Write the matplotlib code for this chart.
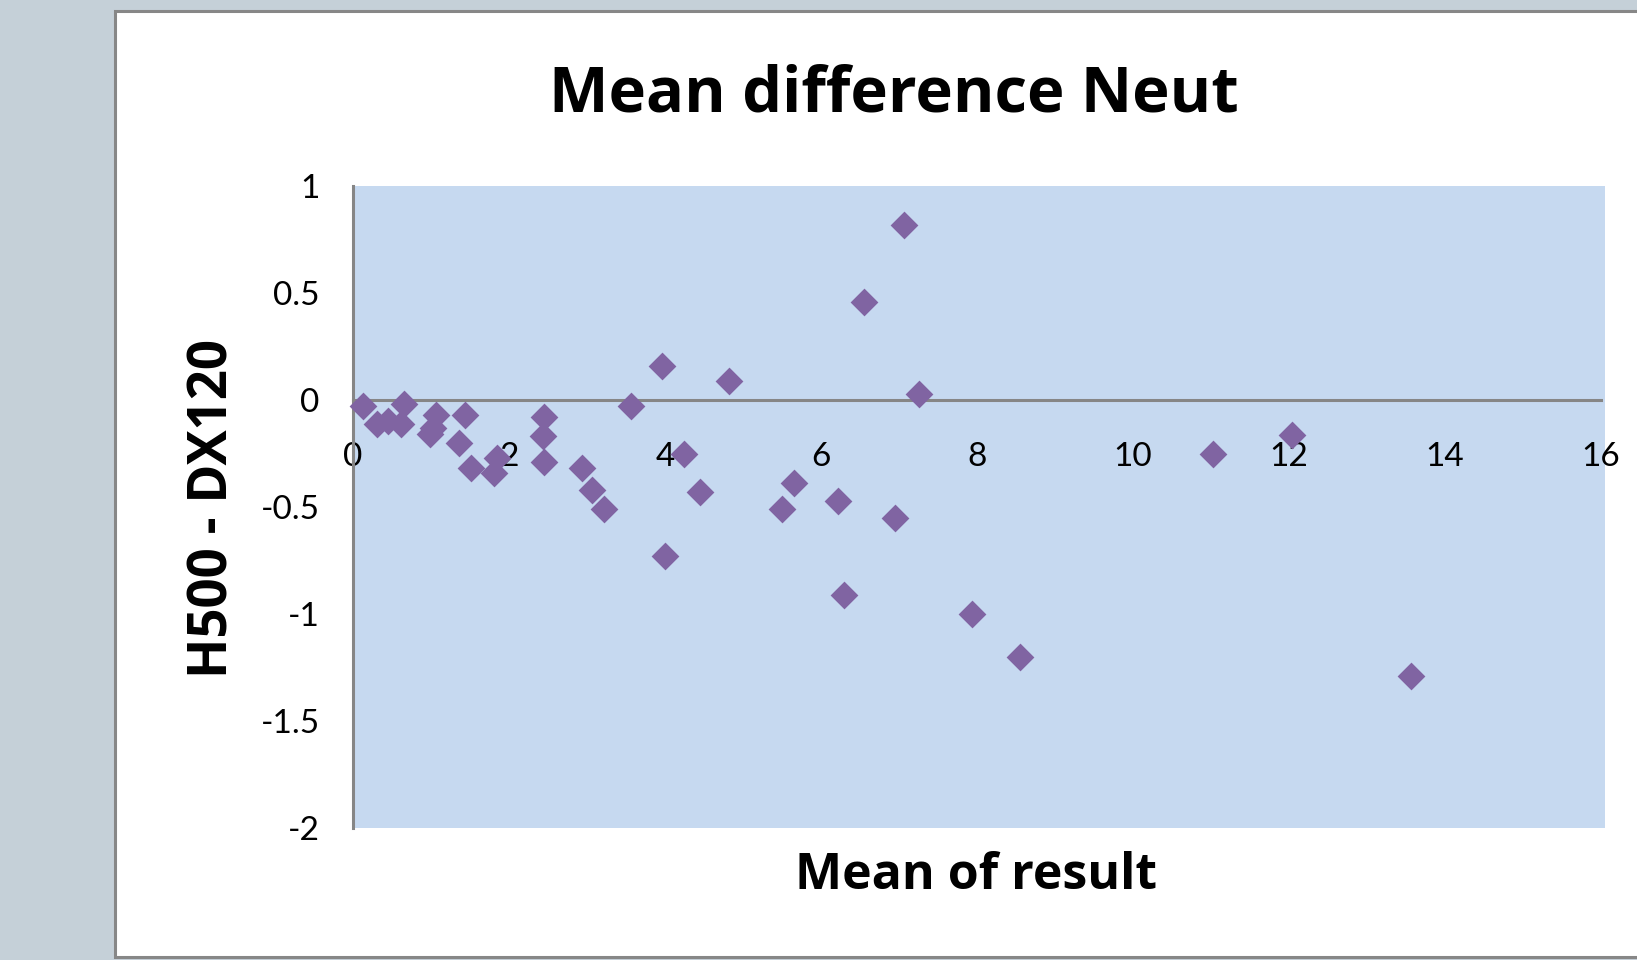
import matplotlib.pyplot as plt
from matplotlib.patches import Rectangle

# values
mean_result = [0.13, 0.31, 0.45, 0.61, 0.66, 0.99, 1.02, 1.06, 1.36, 1.43,
               1.51, 1.81, 1.85, 2.43, 2.45, 2.45, 2.93, 3.06, 3.22, 3.57,
               3.96, 4.00, 4.24, 4.45, 4.82, 5.50, 5.65, 6.22, 6.29, 6.55,
               6.95, 7.06, 7.25, 7.94, 8.55, 11.03, 12.04, 13.57]
difference = [-0.03, -0.11, -0.10, -0.11, -0.02, -0.16, -0.13, -0.07, -0.20, -0.07,
              -0.32, -0.34, -0.27, -0.17, -0.08, -0.29, -0.32, -0.42, -0.51, -0.03,
              0.16, -0.73, -0.25, -0.43, 0.09, -0.51, -0.39, -0.47, -0.91, 0.46,
              -0.55, 0.82, 0.03, -1.00, -1.20, -0.25, -0.165, -1.29]
x_ticks = [0, 2, 4, 6, 8, 10, 12, 14, 16]
y_ticks = [-2, -1.5, -1, -0.5, 0, 0.5, 1]
y_tick_labels = ['-2', '-1.5', '-1', '-0.5', '0', '0.5', '1']

W, H = 1637, 960
fig = plt.figure(figsize=(W / 100, H / 100), dpi=100, facecolor='#C5D0D8')

# white chart area with grey border
fig.patches.append(Rectangle((115 / W, 1 - 957 / H), 1.2, (957 - 11) / H,
                             transform=fig.transFigure, facecolor='white',
                             edgecolor='#878787', linewidth=2.2, zorder=-1))

ax = fig.add_axes([353 / W, 1 - 828 / H, (1601 - 353) / W, (828 - 186) / H])
ax.set_zorder(1)
ax.set_facecolor('none')
# plot area runs a few pixels past the end of the x axis
ax.add_patch(Rectangle((0, 0), 1.0035, 1, transform=ax.transAxes,
                       facecolor='#C6D9F0', edgecolor='none', zorder=0,
                       clip_on=False))
ax.scatter(mean_result, difference, marker='D', s=200, color='#8064A2',
           linewidths=0, zorder=3, clip_on=False)

ax.set_xlim(0, 16)
ax.set_ylim(-2, 1)
ax.set_xticks(x_ticks)
ax.set_xticklabels([str(t) for t in x_ticks])
ax.set_yticks(y_ticks)
ax.set_yticklabels(y_tick_labels)

for side in ['top', 'right']:
    ax.spines[side].set_visible(False)
ax.spines['bottom'].set_position(('data', 0))
for side in ['left', 'bottom']:
    ax.spines[side].set_color('#868686')
    ax.spines[side].set_linewidth(2.2)
    ax.spines[side].set_zorder(2)

ax.tick_params(axis='x', length=0, pad=30, labelsize=24)
ax.tick_params(axis='y', length=0, pad=24, labelsize=24)
for lbl in ax.get_xticklabels() + ax.get_yticklabels():
    lbl.set_family('Lato')

fig.text(894 / W, 1 - 112 / H, 'Mean difference Neut', ha='center',
         va='baseline', fontsize=45.5, fontweight='bold', family='Open Sans')
fig.text(976 / W, 1 - 889 / H, 'Mean of result', ha='center',
         va='baseline', fontsize=36, fontweight='bold', family='Open Sans')
fig.text(213 / W, 1 - 508 / H, 'H500 - DX120', ha='center', va='center',
         rotation=90, fontsize=38, fontweight='bold', family='Open Sans')

fig.savefig('out.png', dpi=100, facecolor=fig.get_facecolor())
